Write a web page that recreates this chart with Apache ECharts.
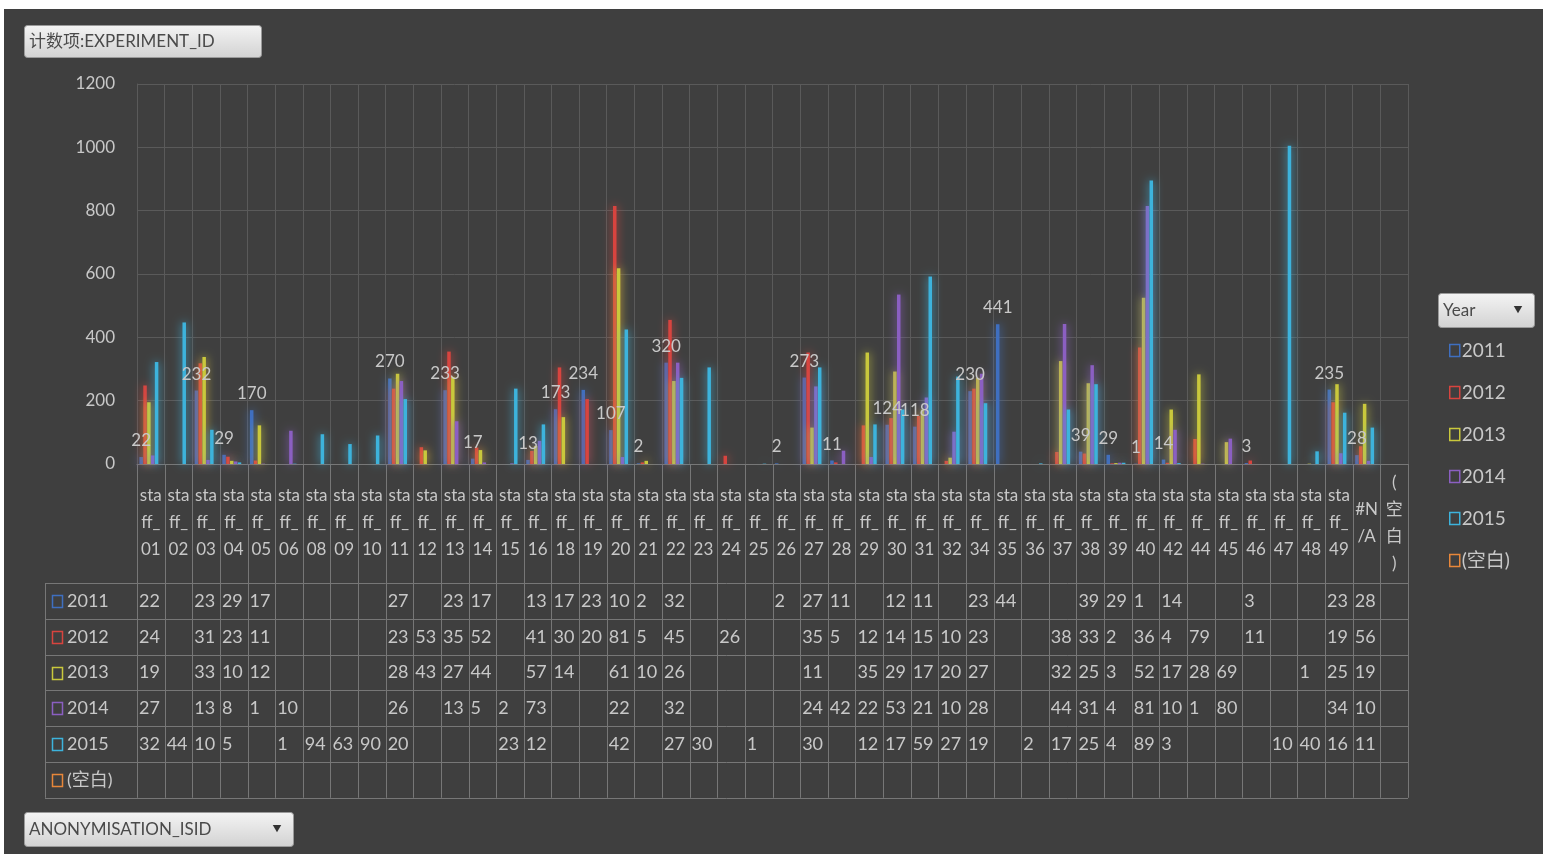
<!DOCTYPE html>
<html>
<head>
<meta charset="utf-8">
<title>计数项:EXPERIMENT_ID</title>
<script src="https://cdn.jsdelivr.net/npm/echarts@6/dist/echarts.min.js"></script>
<style>
  html, body { margin: 0; padding: 0; background: #ffffff; }
  #main { width: 1546px; height: 854px; }
</style>
</head>
<body>
<div id="main"></div>
<script>
// categories (staff ids)
var categories = ['staff_01','staff_02','staff_03','staff_04','staff_05','staff_06','staff_08','staff_09','staff_10',
  'staff_11','staff_12','staff_13','staff_14','staff_15','staff_16','staff_18','staff_19','staff_20','staff_21',
  'staff_22','staff_23','staff_24','staff_25','staff_26','staff_27','staff_28','staff_29','staff_30','staff_31',
  'staff_32','staff_34','staff_35','staff_36','staff_37','staff_38','staff_39','staff_40','staff_42','staff_44',
  'staff_45','staff_46','staff_47','staff_48','staff_49','#N/A','(空白)']
var years = ['2011', '2012', '2013', '2014', '2015', '(空白)']
var yTicks = [0, 200, 400, 600, 800, 1000, 1200]

var v2011 = [22,null,232,29,170,null,null,null,null,270,null,233,17,null,13,173,234,107,2,320,null,null,null,2,273,11,null,124,118,null,230,441,null,null,39,29,1,14,null,null,3,null,null,235,28,null]
var v2012 = [248,null,318,23,11,null,null,null,null,238,53,355,52,null,41,305,205,815,5,455,null,26,null,null,352,5,122,145,152,10,238,null,null,38,33,2,368,4,79,null,11,null,null,195,56,null]
var v2013 = [195,null,338,10,122,null,null,null,null,285,43,275,44,null,57,148,null,618,10,262,null,null,null,null,115,null,352,292,172,20,272,null,null,325,255,3,525,172,283,69,null,null,1,252,190,null]
var v2014 = [27,null,13,8,1,105,null,null,null,262,null,135,5,2,73,null,null,22,null,320,null,null,null,null,245,42,22,535,210,102,285,null,null,442,312,4,815,108,1,80,null,null,null,34,10,null]
var v2015 = [322,447,108,5,null,1,94,63,90,205,null,null,null,238,125,null,null,425,null,272,305,null,1,null,305,null,125,172,592,276,192,null,2,172,252,4,895,3,null,null,null,1005,40,162,115,null]
var vBlank = [null,null,null,null,null,null,null,null,null,null,null,null,null,null,null,null,null,null,null,null,null,null,null,null,null,null,null,null,null,null,null,null,null,null,null,null,null,null,null,null,null,null,null,null,null,null]

var colors = ['#3f6fc0', '#d8443f', '#c9c83c', '#8b5fc2', '#3db3dc', '#e8873a']
var allData = [v2011, v2012, v2013, v2014, v2015, vBlank]

var FONT = 'Lato, "Noto Sans CJK SC", sans-serif'
var TXT = '#c8c8c8'
var gLeft = 137, gRight = 1408, gTop = 84, gBottom = 464
var cw = (gRight - gLeft) / categories.length
var tableTop = 583, rowH = 35.8

function catLabel(name) {
  if (name === '#N/A') return '#N\n/A'
  if (name === '(空白)') return '(\n空\n白\n)'
  return name.slice(0, 3) + '\n' + name.slice(3, 6) + '\n' + name.slice(6)
}

var graphics = []
// dark chart area
graphics.push({ type: 'rect', z: -10, shape: { x: 4, y: 9, width: 1539, height: 845 },
  style: { fill: '#3f3f3f' } })

// table lines
var lineCol = '#777777'
for (var i = 0; i <= categories.length; i++) {
  var x = Math.round(gLeft + i * cw) + 0.5
  graphics.push({ type: 'line', shape: { x1: x, y1: gBottom, x2: x, y2: tableTop + 6 * rowH },
    style: { stroke: lineCol, lineWidth: 1 } })
}
graphics.push({ type: 'line', shape: { x1: 45.5, y1: tableTop, x2: 45.5, y2: tableTop + 6 * rowH },
  style: { stroke: lineCol, lineWidth: 1 } })
for (var r = 0; r <= 6; r++) {
  var y = Math.round(tableTop + r * rowH) + 0.5
  graphics.push({ type: 'line', shape: { x1: 45, y1: y, x2: gRight, y2: y },
    style: { stroke: lineCol, lineWidth: 1 } })
}

// table rows
years.forEach(function (yr, r) {
  var cy = tableTop + r * rowH + rowH / 2
  graphics.push({ type: 'rect', shape: { x: 52.5, y: Math.round(cy - 6) + 0.5, width: 10, height: 12 },
    style: { fill: 'none', stroke: colors[r], lineWidth: 1.5 } })
  graphics.push({ type: 'text', x: 67, y: cy, style: { text: yr, fill: TXT, font: '18px ' + FONT,
    verticalAlign: 'middle', textAlign: 'left' } })
  allData[r].forEach(function (v, c) {
    if (v == null) return
    graphics.push({ type: 'text', x: gLeft + c * cw + 2, y: cy,
      style: { text: String(v).slice(0, 2), fill: TXT, font: '18px ' + FONT,
        verticalAlign: 'middle', textAlign: 'left' } })
  })
})

// buttons
function button(x, y, w, h, label, arrow) {
  graphics.push({ type: 'rect', shape: { x: x + 0.5, y: y + 0.5, width: w, height: h, r: 3 },
    style: { fill: new echarts.graphic.LinearGradient(0, 0, 0, 1, [
      { offset: 0, color: '#f4f4f4' }, { offset: 1, color: '#d2d2d2' }]), stroke: '#9a9a9a', lineWidth: 1 } })
  graphics.push({ type: 'text', x: x + 5, y: y + h / 2 + 1, style: { text: label, fill: '#4a4a4a',
    font: '17px ' + FONT, verticalAlign: 'middle' } })
  if (arrow) {
    graphics.push({ type: 'text', x: x + w - 16, y: y + h / 2, style: { text: '▼', fill: '#333',
      font: '9px ' + FONT, verticalAlign: 'middle', textAlign: 'center' } })
  }
}
button(24, 25, 237, 32, '计数项:EXPERIMENT_ID', false)
button(1438, 293, 96, 34, 'Year', true)
button(24, 812, 269, 34, 'ANONYMISATION_ISID', true)

var series = years.map(function (yr, i) {
  var s = {
    name: yr,
    type: 'bar',
    data: allData[i],
    barWidth: 3.5,
    barGap: '10%',
    barCategoryGap: '30%',
    itemStyle: { color: colors[i], shadowBlur: 10, shadowColor: colors[i] }
  }
  if (i === 0) {
    s.label = { show: true, position: 'top', distance: 8, color: TXT, fontSize: 17, fontFamily: FONT }
  }
  return s
})

var chart = echarts.init(document.getElementById('main'))
chart.setOption({
  backgroundColor: '#ffffff',
  animation: false,
  grid: { left: gLeft, right: 1546 - gRight, top: gTop, bottom: 854 - gBottom, containLabel: false },
  legend: {
    orient: 'vertical',
    left: 1444,
    top: 336,
    itemWidth: 10,
    itemHeight: 12,
    itemGap: 23,
    icon: 'rect',
    textStyle: { color: TXT, fontSize: 19, fontFamily: FONT, padding: [0, 0, 0, -3] },
    data: years.map(function (yr, i) {
      return { name: yr, itemStyle: { color: 'rgba(0,0,0,0)', borderColor: colors[i], borderWidth: 1.5 } }
    })
  },
  xAxis: {
    type: 'category',
    data: categories,
    axisTick: { show: false },
    axisLine: { lineStyle: { color: '#777777' } },
    splitLine: { show: true, lineStyle: { color: '#5a5a5a' } },
    axisLabel: {
      interval: 0,
      margin: 59,
      verticalAlign: 'middle',
      color: TXT,
      fontSize: 17,
      lineHeight: 27,
      fontFamily: FONT,
      formatter: catLabel
    }
  },
  yAxis: {
    type: 'value',
    min: yTicks[0],
    max: yTicks[yTicks.length - 1],
    interval: 200,
    axisLine: { show: true, lineStyle: { color: '#5a5a5a' } },
    axisTick: { show: false },
    splitLine: { lineStyle: { color: '#5a5a5a' } },
    axisLabel: { color: TXT, fontSize: 17, fontFamily: FONT, margin: 22, formatter: function (v) { return String(v) } }
  },
  graphic: graphics,
  series: series
})
</script>
</body>
</html>
